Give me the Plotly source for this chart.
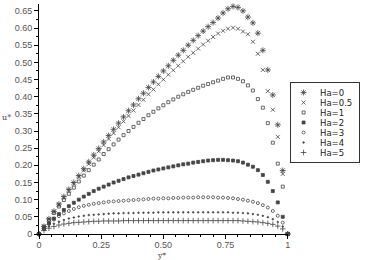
import plotly.graph_objects as go

# ---------------- data ----------------
y_star = [0.00, 0.02, 0.04, 0.06, 0.08, 0.10, 0.12, 0.14, 0.16, 0.18,
          0.20, 0.22, 0.24, 0.26, 0.28, 0.30, 0.32, 0.34, 0.36, 0.38,
          0.40, 0.42, 0.44, 0.46, 0.48, 0.50, 0.52, 0.54, 0.56, 0.58,
          0.60, 0.62, 0.64, 0.66, 0.68, 0.70, 0.72, 0.74, 0.76, 0.78,
          0.80, 0.82, 0.84, 0.86, 0.88, 0.90, 0.92, 0.94, 0.96, 0.98, 1.00]

u_ha0 = [0, 0.022, 0.044, 0.066, 0.087, 0.109, 0.130, 0.150, 0.170, 0.190,
         0.210, 0.230, 0.249, 0.268, 0.287, 0.305, 0.323, 0.341, 0.359, 0.376,
         0.394, 0.410, 0.427, 0.443, 0.459, 0.475, 0.490, 0.506, 0.521, 0.535,
         0.550, 0.564, 0.578, 0.591, 0.604, 0.616, 0.629, 0.644, 0.656, 0.663,
         0.660, 0.650, 0.632, 0.615, 0.585, 0.535, 0.478, 0.405, 0.318, 0.185, 0]

u_ha05 = [0, 0.022, 0.043, 0.065, 0.085, 0.106, 0.126, 0.146, 0.166, 0.185,
          0.204, 0.223, 0.241, 0.259, 0.277, 0.294, 0.311, 0.328, 0.344, 0.360,
          0.376, 0.391, 0.407, 0.421, 0.436, 0.450, 0.464, 0.477, 0.490, 0.503,
          0.516, 0.528, 0.540, 0.552, 0.563, 0.574, 0.584, 0.592, 0.598, 0.601,
          0.598, 0.590, 0.582, 0.560, 0.525, 0.478, 0.416, 0.362, 0.283, 0.175, 0]

u_ha1 = [0, 0.021, 0.041, 0.061, 0.080, 0.099, 0.117, 0.135, 0.153, 0.170,
         0.186, 0.202, 0.217, 0.233, 0.247, 0.261, 0.275, 0.288, 0.300, 0.312,
         0.324, 0.335, 0.346, 0.356, 0.366, 0.375, 0.384, 0.392, 0.400, 0.407,
         0.414, 0.420, 0.426, 0.432, 0.437, 0.442, 0.447, 0.452, 0.456, 0.456,
         0.452, 0.445, 0.433, 0.418, 0.393, 0.368, 0.323, 0.266, 0.205, 0.138, 0]

u_ha2 = [0, 0.016, 0.031, 0.045, 0.058, 0.070, 0.081, 0.091, 0.100, 0.109,
         0.117, 0.125, 0.132, 0.138, 0.144, 0.150, 0.155, 0.160, 0.165, 0.169,
         0.173, 0.177, 0.181, 0.185, 0.188, 0.191, 0.194, 0.197, 0.200, 0.203,
         0.205, 0.208, 0.210, 0.212, 0.214, 0.215, 0.216, 0.216, 0.215, 0.214,
         0.212, 0.208, 0.202, 0.196, 0.186, 0.172, 0.152, 0.125, 0.092, 0.050, 0]

u_ha3 = [0, 0.016, 0.030, 0.042, 0.052, 0.060, 0.067, 0.073, 0.078, 0.082,
         0.085, 0.088, 0.090, 0.092, 0.094, 0.095, 0.096, 0.097, 0.098, 0.099,
         0.100, 0.101, 0.102, 0.103, 0.103, 0.104, 0.104, 0.105, 0.105, 0.106,
         0.106, 0.106, 0.107, 0.107, 0.107, 0.107, 0.106, 0.106, 0.105, 0.104,
         0.102, 0.100, 0.097, 0.094, 0.090, 0.084, 0.077, 0.067, 0.053, 0.033, 0]

u_ha4 = [0, 0.012, 0.022, 0.030, 0.036, 0.041, 0.045, 0.048, 0.051, 0.053,
         0.055, 0.056, 0.057, 0.058, 0.059, 0.060, 0.060, 0.061, 0.061, 0.061,
         0.062, 0.062, 0.062, 0.062, 0.063, 0.063, 0.063, 0.063, 0.063, 0.063,
         0.063, 0.063, 0.063, 0.063, 0.063, 0.063, 0.063, 0.063, 0.063, 0.062,
         0.062, 0.061, 0.060, 0.058, 0.056, 0.053, 0.049, 0.043, 0.035, 0.022, 0]

u_ha5 = [0, 0.010, 0.017, 0.022, 0.026, 0.029, 0.031, 0.033, 0.034, 0.035,
         0.036, 0.037, 0.037, 0.038, 0.038, 0.038, 0.038, 0.039, 0.039, 0.039,
         0.039, 0.039, 0.039, 0.039, 0.039, 0.039, 0.039, 0.039, 0.039, 0.039,
         0.039, 0.039, 0.039, 0.039, 0.039, 0.039, 0.039, 0.039, 0.039, 0.039,
         0.039, 0.038, 0.037, 0.036, 0.035, 0.033, 0.031, 0.028, 0.023, 0.015, 0]

series_names = ["Ha=0", "Ha=0.5", "Ha=1", "Ha=2", "Ha=3", "Ha=4", "Ha=5"]
series_values = [u_ha0, u_ha05, u_ha1, u_ha2, u_ha3, u_ha4, u_ha5]

y_tickvals = [0, 0.05, 0.10, 0.15, 0.20, 0.25, 0.30, 0.35, 0.40, 0.45, 0.50, 0.55, 0.60, 0.65]
y_ticktext = ["0", "0.05", "0.10", "0.15", "0.20", "0.25", "0.30", "0.35", "0.40",
              "0.45", "0.50", "0.55", "0.60", "0.65"]
x_tickvals = [0, 0.25, 0.5, 0.75, 1]
x_ticktext = ["0", "0.25", "0.50", "0.75", "1"]

# ---------------- styles ----------------
INK = "#444444"
styles = [
    dict(symbol="asterisk-open", size=5),
    dict(symbol="x-thin-open", size=4),
    dict(symbol="square-open", size=3),
    dict(symbol="square", size=3),
    dict(symbol="circle-open", size=3),
    dict(symbol="circle", size=1.6),
    dict(symbol="cross-thin-open", size=4),
]

fig = go.Figure()
for name, vals, st in zip(series_names, series_values, styles):
    fig.add_trace(go.Scatter(
        x=y_star, y=vals, mode="markers", name=name, showlegend=False,
        cliponaxis=False,
        marker=dict(symbol=st["symbol"], size=st["size"], color=INK,
                    line=dict(width=0.8, color=INK)),
    ))

# manual legend in its own small axes (pixel-like units inside the box)
LEG_W, LEG_H = 69, 79
for i, (name, st) in enumerate(zip(series_names, styles)):
    row = 9.5 + 10.0 * i
    fig.add_trace(go.Scatter(
        x=[13], y=[row], xaxis="x2", yaxis="y2", mode="markers",
        showlegend=False, hoverinfo="skip",
        marker=dict(symbol=st["symbol"], size=st["size"], color=INK,
                    line=dict(width=0.8, color=INK)),
    ))
    fig.add_annotation(x=28, y=row, xref="x2", yref="y2", text=name,
                       showarrow=False, xanchor="left", yanchor="middle",
                       font=dict(family="DejaVu Sans", size=8.5, color="#222"))

PW = 330  # paper width in px (369 - left margin 39)
PH = 230
main_right = (290 - 39) / PW

tickfont = dict(family="Liberation Sans", size=9, color="#555555")
fig.update_layout(
    width=369, height=260,
    margin=dict(l=39, r=0, t=4, b=26),
    paper_bgcolor="white", plot_bgcolor="white",
    showlegend=False,
    xaxis=dict(domain=[0, main_right], range=[0, 1], showgrid=False, zeroline=False,
               showline=True, linecolor="black", linewidth=1,
               tickmode="array", tickvals=x_tickvals, ticktext=x_ticktext,
               ticks="outside", ticklen=4, tickcolor="black", tickfont=tickfont,
               ticklabelstandoff=-2,
               minor=dict(dtick=0.05, tick0=0, ticks="outside", ticklen=2,
                          tickcolor="black")),
    yaxis=dict(range=[0, 0.67], showgrid=False, zeroline=False,
               showline=True, linecolor="black", linewidth=1,
               tickmode="array", tickvals=y_tickvals, ticktext=y_ticktext,
               ticks="outside", ticklen=4, tickcolor="black", tickfont=tickfont,
               minor=dict(dtick=0.025, tick0=0, ticks="outside", ticklen=2,
                          tickcolor="black")),
    xaxis2=dict(domain=[(293 - 39) / PW, (362 - 39) / PW], range=[0, LEG_W],
                anchor="y2", showgrid=False, zeroline=False, showticklabels=False,
                ticks="", showline=True, mirror=True, linecolor="#333", linewidth=1,
                fixedrange=True),
    yaxis2=dict(domain=[(234 - 162) / PH, (234 - 83) / PH], range=[LEG_H, 0],
                anchor="x2", showgrid=False, zeroline=False, showticklabels=False,
                ticks="", showline=True, mirror=True, linecolor="#333", linewidth=1,
                fixedrange=True),
)

fig.add_annotation(x=(6 - 39) / PW, y=(234 - 117) / PH, xref="paper", yref="paper",
                   text="u*", showarrow=False, xanchor="center", yanchor="middle",
                   font=dict(family="DejaVu Serif", size=8, color="#444"))
fig.add_annotation(x=(163 - 39) / PW, y=(234 - 256) / PH, xref="paper", yref="paper",
                   text="y*", showarrow=False, xanchor="center", yanchor="middle",
                   font=dict(family="DejaVu Serif", size=7.5, color="#444"))

fig.write_html("out.html")
